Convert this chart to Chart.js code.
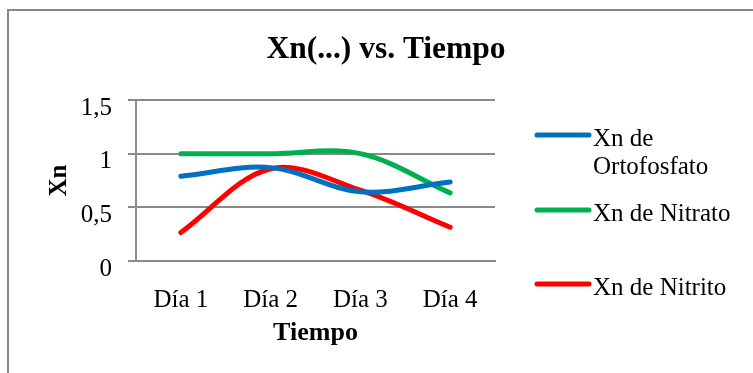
<!DOCTYPE html>
<html>
<head>
<meta charset="utf-8">
<script src="https://cdn.jsdelivr.net/npm/chart.js@4"></script>
<style>
  html, body { margin: 0; padding: 0; background: #fff; overflow: hidden; }
  #wrap { position: relative; width: 753px; height: 373px; }
</style>
</head>
<body>
<div id="wrap"><canvas id="chart"></canvas></div>
<script>
// chart data
const dias = ['Día 1', 'Día 2', 'Día 3', 'Día 4'];
const seriesNames = ['Xn de Ortofosfato', 'Xn de Nitrato', 'Xn de Nitrito'];
const ortofosfato = [0.79, 0.87, 0.645, 0.735];
const nitrato = [1, 1, 1, 0.635];
const nitrito = [0.265, 0.86, 0.66, 0.315];
const yTickLabels = ['0', '0,5', '1', '1,5'];
const chartTitle = 'Xn(...) vs. Tiempo';

const colors = ['#0070C0', '#00B050', '#FF0000'];
const serif = '"Liberation Serif", "Times New Roman", serif';
const gridColor = '#8a8a8a';

function makeSet(i, values) {
  return {
    label: seriesNames[i],
    data: values,
    borderColor: colors[i],
    backgroundColor: colors[i],
    borderWidth: 5,
    borderCapStyle: 'round',
    borderJoinStyle: 'round',
    pointRadius: 0,
    tension: 0.35,
    fill: false
  };
}

// frame, title and legend drawn by hand (Excel-like layout)
const decor = {
  id: 'decor',
  beforeDraw(chart) {
    const ctx = chart.ctx;
    ctx.save();
    ctx.strokeStyle = '#888';
    ctx.lineWidth = 2;
    ctx.strokeRect(8, 10, 800, 400);
    ctx.restore();
  },
  afterDraw(chart) {
    const ctx = chart.ctx;
    ctx.save();
    ctx.fillStyle = '#000';
    ctx.textAlign = 'center';
    ctx.textBaseline = 'alphabetic';
    ctx.font = 'bold 31.5px ' + serif;
    ctx.fillText(chartTitle, 386, 58);

    const legendY = [135, 210, 284];
    ctx.font = '25px ' + serif;
    ctx.textAlign = 'left';
    chart.data.datasets.forEach((ds, i) => {
      const y = legendY[i];
      ctx.strokeStyle = ds.borderColor;
      ctx.lineWidth = 5;
      ctx.lineCap = 'round';
      ctx.beginPath();
      ctx.moveTo(537, y);
      ctx.lineTo(589, y);
      ctx.stroke();
      // simple word wrap
      const words = ds.label.split(' ');
      const lines = [];
      let line = '';
      words.forEach(w => {
        const test = line ? line + ' ' + w : w;
        if (line && ctx.measureText(test).width > 152) {
          lines.push(line);
          line = w;
        } else {
          line = test;
        }
      });
      lines.push(line);
      lines.forEach((t, k) => ctx.fillText(t, 593, y + 10.5 + k * 28));
    });
    ctx.restore();
  }
};

new Chart(document.getElementById('chart'), {
  type: 'line',
  data: {
    labels: dias,
    datasets: [makeSet(0, ortofosfato), makeSet(1, nitrato), makeSet(2, nitrito)]
  },
  options: {
    responsive: true,
    maintainAspectRatio: false,
    animation: false,
    layout: { padding: { top: 100, right: 258, left: 0, bottom: 0 } },
    plugins: {
      legend: { display: false },
      title: { display: false },
      tooltip: { enabled: false }
    },
    scales: {
      x: {
        offset: true,
        grid: { display: false },
        border: { display: true, color: gridColor, width: 2 },
        ticks: { color: '#000', font: { family: serif, size: 25 }, padding: 16 },
        title: {
          display: true,
          text: 'Tiempo',
          color: '#000',
          font: { family: serif, size: 26, weight: 'bold' },
          padding: { top: 0, bottom: 24 }
        },
        afterFit(s) { s.height = 112; }
      },
      y: {
        min: 0,
        max: 1.5,
        ticks: {
          stepSize: 0.5,
          color: '#000',
          font: { family: serif, size: 25 },
          padding: 16,
          labelOffset: 8,
          callback: (v, i) => yTickLabels[i]
        },
        grid: { color: gridColor, lineWidth: 2, tickLength: 8 },
        border: { display: true, color: gridColor, width: 2 },
        title: {
          display: true,
          text: 'Xn',
          color: '#000',
          font: { family: serif, size: 25, weight: 'bold' },
          padding: { top: 45, bottom: 0 }
        },
        afterFit(s) { s.width = 136; }
      }
    }
  },
  plugins: [decor]
});
</script>
</body>
</html>
